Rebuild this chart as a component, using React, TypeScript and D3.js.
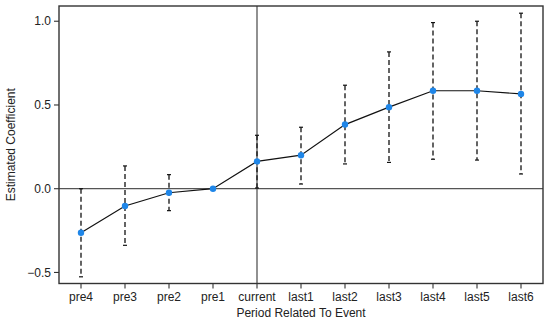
import React from "react";
import * as d3 from "d3";

const categories = ["pre4", "pre3", "pre2", "pre1", "current", "last1", "last2", "last3", "last4", "last5", "last6"];
const estimates = [-0.263, -0.103, -0.024, 0, 0.163, 0.2, 0.383, 0.487, 0.585, 0.585, 0.566];
const upperCI = [0.0, 0.136, 0.084, 0, 0.319, 0.367, 0.618, 0.817, 0.992, 1.0, 1.048];
const lowerCI = [-0.526, -0.338, -0.131, 0, 0.004, 0.028, 0.148, 0.157, 0.176, 0.171, 0.088];
const yTicks = [-0.5, 0, 0.5, 1.0];

const W = 550, H = 324;
const L = 59, R = 543, T = 6, B = 283.5;

export default function App() {
  const x = d3.scaleLinear().domain([0.5, categories.length + 0.5]).range([L, R]);
  const y = d3.scaleLinear().domain([-0.566, 1.091]).range([B, T]);
  const line = d3.line<number>().x((_, i) => x(i + 1)).y((d) => y(d));
  const font = "'Liberation Sans', Arial, sans-serif";
  const currentIdx = categories.indexOf("current") + 1;

  return (
    <svg width={W} height={H} style={{ position: "absolute", left: 0, top: 0, background: "#fff" }}>
      <line x1={L} x2={R} y1={y(0)} y2={y(0)} stroke="#555" strokeWidth={1.3} />
      <line x1={x(currentIdx)} x2={x(currentIdx)} y1={T} y2={B} stroke="#555" strokeWidth={1.3} />
      {categories.map((c, i) => {
        if (upperCI[i] === lowerCI[i]) return null;
        const cx = x(i + 1);
        return (
          <g key={c}>
            <line x1={cx} x2={cx} y1={y(upperCI[i])} y2={y(lowerCI[i])} stroke="#111" strokeWidth={1.3} strokeDasharray="5,3" />
            <line x1={cx - 2} x2={cx + 2} y1={y(upperCI[i])} y2={y(upperCI[i])} stroke="#111" strokeWidth={1.2} />
            <line x1={cx - 2} x2={cx + 2} y1={y(lowerCI[i])} y2={y(lowerCI[i])} stroke="#111" strokeWidth={1.2} />
          </g>
        );
      })}
      <path d={line(estimates) || ""} fill="none" stroke="#111" strokeWidth={1.2} />
      {estimates.map((v, i) => (
        <circle key={i} cx={x(i + 1)} cy={y(v)} r={3.2} fill="#1f86e8" />
      ))}
      <rect x={L} y={T} width={R - L} height={B - T} fill="none" stroke="#333" strokeWidth={1.4} />
      {yTicks.map((t) => (
        <g key={t}>
          <line x1={L - 5} x2={L} y1={y(t)} y2={y(t)} stroke="#333" strokeWidth={1.1} />
          <text x={L - 8} y={y(t)} dy="0.35em" textAnchor="end" fontFamily={font} fontSize={12} fill="#222">
            {t < 0 ? "\u2212" + Math.abs(t).toFixed(1) : t.toFixed(1)}
          </text>
        </g>
      ))}
      {categories.map((c, i) => (
        <g key={c}>
          <line x1={x(i + 1)} x2={x(i + 1)} y1={B} y2={B + 5} stroke="#333" strokeWidth={1.1} />
          <text x={x(i + 1)} y={301} textAnchor="middle" fontFamily={font} fontSize={12} fill="#222">
            {c}
          </text>
        </g>
      ))}
      <text x={(L + R) / 2} y={317} textAnchor="middle" fontFamily={font} fontSize={12} fill="#222">
        Period Related To Event
      </text>
      <text transform={`translate(15,${(T + B) / 2}) rotate(-90)`} textAnchor="middle" fontFamily={font} fontSize={12} fill="#222">
        Estimated Coefficient
      </text>
    </svg>
  );
}
